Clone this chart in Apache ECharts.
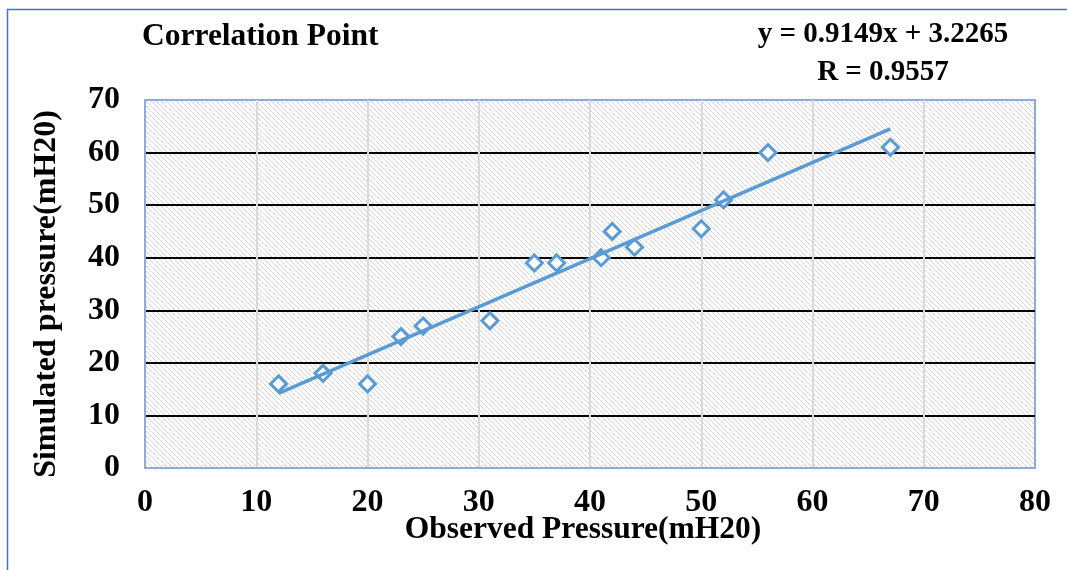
<!DOCTYPE html>
<html>
<head>
<meta charset="utf-8">
<script src="https://cdn.jsdelivr.net/npm/echarts@6/dist/echarts.min.js"></script>
<style>
html,body{margin:0;padding:0;background:#fff;}
#c{width:1067px;height:570px;}
</style>
</head>
<body>
<div id="c"></div>
<script>
// Data
var observed = [12, 16, 20, 23, 25, 31, 35, 37, 41, 42, 44, 50, 52, 56, 67];
var simulated = [16, 18, 16, 25, 27, 28, 39, 39, 40, 45, 42, 45.5, 51, 60, 61];
var trendX = [12, 67];
var trendY = [14.2, 64.5];
var xTicks = [0, 10, 20, 30, 40, 50, 60, 70, 80];
var yTicks = [0, 10, 20, 30, 40, 50, 60, 70];
var titleText = 'Correlation Point';
var equationLines = ['y = 0.9149x + 3.2265', 'R = 0.9557'];
var xName = 'Observed Pressure(mH20)';
var yName = 'Simulated pressure(mH20)';

var FONT = "'Liberation Serif', 'Times New Roman', serif";
var FS = 32;
var EQ_FS = 29;

// hatch pattern
var pc = document.createElement('canvas');
pc.width = 5; pc.height = 5;
var g = pc.getContext('2d');
g.fillStyle = '#ffffff';
g.fillRect(0, 0, 5, 5);
g.strokeStyle = '#d6d6d6';
g.lineWidth = 1;
g.beginPath();
g.moveTo(-1, -1); g.lineTo(6, 6);
g.moveTo(-6, -1); g.lineTo(1, 6);
g.moveTo(4, -1); g.lineTo(11, 6);
g.stroke();

var pts = observed.map(function (x, i) { return [x, simulated[i]]; });
var trend = trendX.map(function (x, i) { return [x, trendY[i]]; });

var chart = echarts.init(document.getElementById('c'), null, {renderer: 'canvas'});
var labelStyle = {fontFamily: FONT, fontWeight: 'bold', fontSize: FS, color: '#000'};

chart.setOption({
  animation: false,
  backgroundColor: '#ffffff',
  title: {
    text: titleText,
    left: 137,
    top: 16,
    textStyle: {fontFamily: FONT, fontWeight: 'bold', fontSize: 31.5, color: '#000'}
  },
  graphic: [
    {type: 'rect', shape: {x: 7.5, y: 9.5, width: 1100, height: 600},
     style: {fill: 'none', stroke: '#4472c4', lineWidth: 1.5}, silent: true, z: 100},
    {type: 'text', x: 883, y: 35,
     style: {text: equationLines[0], align: 'center', verticalAlign: 'middle',
             font: "bold " + EQ_FS + "px 'Liberation Serif', serif", fill: '#000'}},
    {type: 'text', x: 883, y: 73,
     style: {text: equationLines[1], align: 'center', verticalAlign: 'middle',
             font: "bold " + EQ_FS + "px 'Liberation Serif', serif", fill: '#000'}}
  ],
  grid: {
    left: 145, top: 100, right: 32, bottom: 102,
    containLabel: false,
    outerBoundsMode: 'none',
    show: true,
    backgroundColor: {image: pc, repeat: 'repeat'},
    borderColor: '#8eaadb',
    borderWidth: 2
  },
  xAxis: {
    type: 'value', min: 0, max: 80, interval: 10,
    name: xName, nameLocation: 'middle', nameGap: 46, nameMoveOverlap: false,
    nameTextStyle: {fontFamily: FONT, fontWeight: 'bold', fontSize: 31.5, color: '#000', padding: [0, 14, 0, 0]},
    axisLine: {show: true, lineStyle: {color: '#8eaadb', width: 2}},
    axisTick: {show: false},
    axisLabel: Object.assign({margin: 19}, labelStyle, {
      formatter: function (v) { return xTicks.indexOf(v) >= 0 ? String(v) : ''; }
    }),
    splitLine: {show: true, showMinLine: false, showMaxLine: false,
                lineStyle: {color: '#d9d9d9', width: 2}}
  },
  yAxis: {
    type: 'value', min: 0, max: 70, interval: 10,
    name: yName, nameLocation: 'middle', nameGap: 82, nameRotate: 90,
    nameTextStyle: {fontFamily: FONT, fontWeight: 'bold', fontSize: FS, color: '#000', padding: [0, 20, 0, 0]},
    axisLine: {show: true, lineStyle: {color: '#8eaadb', width: 2}},
    axisTick: {show: false},
    axisLabel: Object.assign({margin: 25}, labelStyle, {
      formatter: function (v) { return yTicks.indexOf(v) >= 0 ? String(v) : ''; }
    }),
    splitLine: {show: true, showMinLine: false, showMaxLine: false,
                lineStyle: {color: '#000000', width: 2}}
  },
  series: [
    {
      type: 'scatter', data: pts, symbol: 'diamond', symbolSize: 16,
      itemStyle: {color: '#ffffff', borderColor: '#5b9bd5', borderWidth: 3, opacity: 1},
      z: 3
    },
    {
      type: 'line', data: trend, showSymbol: false, symbol: 'none',
      lineStyle: {color: '#5b9bd5', width: 3.5},
      z: 4
    }
  ]
});
</script>
</body>
</html>
